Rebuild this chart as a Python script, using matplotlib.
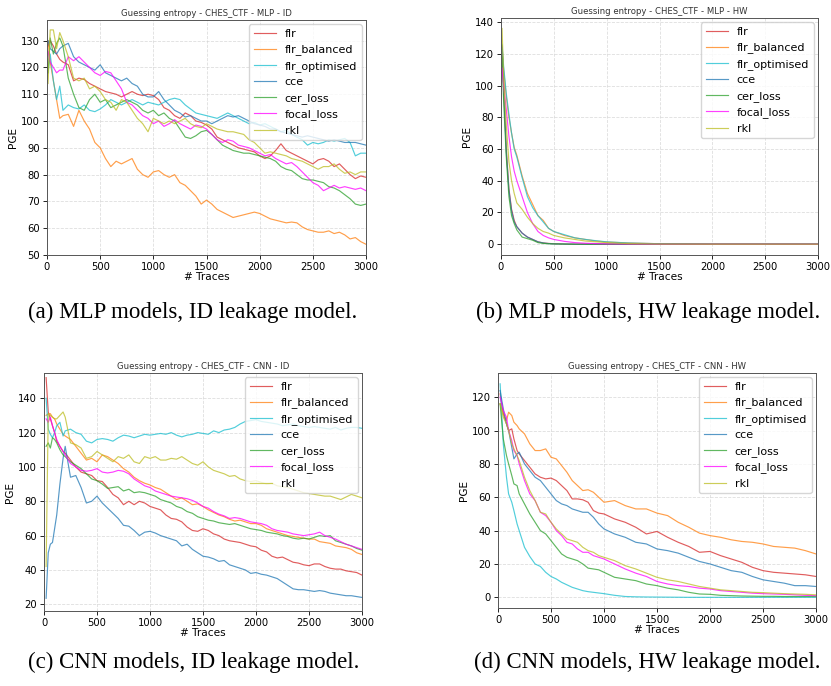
import matplotlib
matplotlib.use("Agg")
import matplotlib.pyplot as plt

# ---------------------------------------------------------------- data
labels = ["flr", "flr_balanced", "flr_optimised", "cce", "cer_loss", "focal_loss", "rkl"]
colors = ["#d62728", "#ff7f0e", "#17becf", "#1f77b4", "#2ca02c", "#ff00ff", "#bcbd22"]

# (a) MLP - ID
x_a = [10, 30, 60, 90, 120, 150] + list(range(200, 3001, 50))
flr_a = [128, 130, 128, 125, 123, 122,
         121, 115, 116, 115.5, 114, 113, 112, 111, 110.5, 110,
         109, 110, 111, 110, 109.5, 110, 109.5, 108, 105, 104,
         102, 101, 103, 102, 100, 99.5, 98.5, 97, 94, 93,
         92, 91, 90, 89.5, 89, 88.5, 87, 86, 87, 89,
         91.5, 89, 88, 87, 86, 85, 84, 85.5, 86, 85,
         83, 84, 82, 80, 78.5, 79.5, 79]
flr_balanced_a = [130, 122, 115, 108, 101, 102,
                  102.5, 98, 104, 100, 97, 92, 90, 86, 83, 85,
                  84, 85, 86, 82, 80, 79, 81, 81.5, 80, 79,
                  80, 77, 76, 74, 72, 69, 70.5, 69, 67, 66,
                  65, 64, 64.5, 65, 65.5, 66, 65.5, 64.5, 63.5, 63,
                  62.5, 62, 62.3, 62, 60.5, 59.5, 59, 58.5, 58.5, 59,
                  58, 58.5, 57.5, 56, 56.5, 55, 54]
flr_optimised_a = [118, 125, 115, 108, 113, 104,
                   106, 105, 104.5, 106, 104, 103.5, 104.5, 106, 108, 107,
                   106, 107, 108, 107, 106, 107, 106.5, 106, 107, 108,
                   108.5, 108, 106, 104.5, 103, 102.5, 102, 101.5, 101, 102,
                   103, 102, 101, 100, 99, 99.5, 98.5, 99, 98, 97,
                   96, 96.5, 95, 94, 93, 91, 92, 91.5, 92, 93,
                   92.5, 93, 93.5, 92, 87, 88, 88]
cce_a = [130, 127, 126, 125, 127, 128,
         129, 124, 122, 121, 120, 119, 121, 118, 117, 116,
         115, 116, 114, 113, 110, 109, 109, 111, 108, 106,
         104, 103, 101.5, 102, 101, 100, 100, 99, 100, 101,
         102, 101.5, 102, 101, 100, 99, 98.5, 98, 97, 97,
         96, 95.5, 95, 94.5, 94, 94.5, 94, 93.5, 93, 92.5,
         93, 92.5, 92, 92, 92, 91.5, 91]
cer_loss_a = [118, 131, 125, 129, 131, 128,
              116, 110, 105, 104, 108, 110, 107, 108, 105, 106,
              107, 108, 107, 106, 104, 103, 104, 102, 103, 101,
              100, 97, 94, 93.5, 94.5, 96, 96.5, 95, 93, 91,
              90, 89, 88.5, 88, 88, 87.5, 87, 86.5, 86, 85,
              83, 82, 81.5, 80, 78.5, 78, 78, 77.5, 77, 75.5,
              75, 74, 72.5, 71, 69, 68.5, 69]
focal_loss_a = [126, 122, 120, 118, 119, 119,
                124, 122.5, 124, 122, 120, 118, 117, 118.5, 118, 115,
                112, 107, 106, 104, 102, 101, 99, 100, 98, 99,
                100.5, 99, 98, 97, 98.5, 98, 97, 95, 93, 92,
                93, 92.5, 91, 90.5, 90, 89, 88, 87, 87.5, 86,
                85, 84, 84.5, 83, 81, 79, 77, 76, 74, 75,
                76, 75, 75.5, 75, 74.5, 75, 74]
rkl_a = [114, 134, 134, 127, 133, 130,
         124, 116, 115, 116, 112, 113, 111, 108, 107, 104,
         108, 107, 104, 101, 99, 96, 101, 100, 99, 100,
         99, 100, 101, 99, 98, 97.5, 99, 98, 97, 96.5,
         96, 96, 95.5, 95, 93, 92, 90, 88, 88.5, 88,
         87.5, 87, 86, 85.5, 85, 84, 83, 82, 83, 83,
         84, 82, 80.5, 81, 80, 81, 81]

# (b) MLP - HW
x_b = [10, 25, 50, 75, 100, 125, 150, 200, 250, 300, 350, 400, 450, 500,
       600, 700, 800, 900, 1000, 1200, 1500, 2000, 2500, 3000]
flr_b = [125, 100, 60, 35, 22, 15, 11, 7, 4.5, 3, 1.5, 0.8, 0.5, 0.3,
         0.1, 0, 0, 0, 0, 0, 0, 0, 0, 0]
flr_balanced_b = [125, 110, 93, 80, 70, 61, 56, 43, 32, 25, 18, 15, 10, 8,
                  5.5, 4, 3, 2, 1.4, 0.8, 0.3, 0, 0, 0]
flr_optimised_b = [126, 112, 95, 82, 70, 60, 55, 42, 30, 23, 18, 14, 10, 8,
                   6, 4, 3, 2.2, 1.5, 0.8, 0.3, 0, 0, 0]
cce_b = [124, 98, 58, 34, 21, 14, 11, 7, 4.5, 3, 1.5, 0.8, 0.4, 0.2,
         0.1, 0, 0, 0, 0, 0, 0, 0, 0, 0]
cer_loss_b = [118, 90, 55, 30, 18, 13, 9, 4.5, 3.5, 2.5, 1, 0.5, 0.3, 0.2,
              0.1, 0, 0, 0, 0, 0, 0, 0, 0, 0]
focal_loss_b = [111, 100, 85, 68, 55, 46, 40, 30, 20, 13, 8, 5.5, 4, 3,
                1.8, 1, 0.6, 0.4, 0.2, 0.1, 0, 0, 0, 0]
rkl_b = [136, 105, 75, 52, 40, 32, 26, 22, 17, 13, 10, 8, 7, 5.5,
         4, 3, 2, 1.5, 1, 0.4, 0.1, 0, 0, 0]

# (c) CNN - ID
x_c = [20, 40, 60, 80, 100, 120, 150, 180] + list(range(200, 3001, 50))
flr_c = [152, 132, 128, 124, 120, 115, 112, 109,
         108, 104, 100, 97, 96, 95, 92, 91.5, 88, 84,
         82, 78, 80, 78, 80, 79, 77, 76, 75, 72,
         70, 69.5, 68, 65, 63, 62.5, 64, 63, 61, 60,
         58, 57, 56.5, 56, 55, 54, 53.5, 51.5, 50.5, 48,
         47, 47.5, 46, 44.5, 44, 43, 42.5, 43.5, 43.5, 42,
         41, 40.5, 40.5, 39.5, 39, 38.5, 37]
flr_balanced_c = [130, 131, 131, 129, 128, 125, 122, 119,
                  118, 116, 112, 108, 104, 105, 103, 107, 106, 104,
                  102, 99, 97, 94, 92, 90.5, 89.5, 88, 87, 85,
                  83, 81, 82, 80, 78, 78.5, 77, 75, 73.5, 72,
                  71, 69.5, 68.5, 69, 68, 67, 67, 66, 64, 63,
                  62, 61, 60, 59.5, 59, 58.5, 58, 58, 56.5, 56,
                  55.5, 54, 53.5, 53, 52, 50, 49]
flr_optimised_c = [140, 122, 119, 117, 120, 124, 126, 118,
                   121, 122, 120, 119, 115, 114, 116, 116.5, 116, 115,
                   117, 118.5, 118, 117, 118, 119, 118.5, 119, 119.5, 119,
                   120, 118.5, 117.5, 118.5, 119, 120, 119.5, 119, 121, 120,
                   121.5, 122, 123, 125, 126.5, 127, 127.5, 126.5, 126, 125.5,
                   125, 124, 124.5, 125, 124, 123.5, 123, 123.5, 123, 122.5,
                   122, 123, 121.5, 122.5, 123, 123, 122.5]
cce_c = [23.5, 50, 55, 56, 64, 72, 90, 105,
         112, 94, 95, 88, 79, 80, 83, 79, 76, 73,
         70, 66, 65.5, 63, 60, 62, 62.5, 61.5, 60, 59,
         58, 57, 54, 55, 52, 50, 48, 47.5, 46.5, 45,
         45.5, 43, 42, 41, 40, 38, 38.5, 37.5, 37, 36,
         35, 33, 31, 29, 28.5, 28.5, 28, 27.5, 28, 27.5,
         26.5, 26, 25.5, 25, 25, 24.5, 24]
cer_loss_c = [112, 114, 111, 117, 116, 114, 110, 107,
              106, 103, 101, 99, 96, 93, 92, 90, 87.5, 88,
              88.5, 86, 87, 85, 85.5, 85, 84, 83, 81, 80,
              79, 77, 76, 74, 73, 71, 70, 69, 68.5, 67.5,
              67, 66.5, 67, 66, 65, 64, 63.5, 63, 62, 61.5,
              61, 60, 59.5, 58.5, 58, 58.5, 58, 59, 60, 59.5,
              60, 57, 56, 55, 54, 52.5, 51.5]
focal_loss_c = [128, 126, 129, 124, 120, 116, 112, 109,
                107, 102, 100, 98, 97.5, 98, 99, 97, 96.5, 97,
                98, 97.5, 96, 93, 91, 89, 88, 86, 85, 84,
                83, 82.5, 82, 81.5, 80.5, 79, 77, 76, 74, 72.5,
                71.5, 70, 70.5, 70, 69, 68, 67.5, 67, 66, 64,
                63, 62.5, 62, 61, 60.5, 60, 60.5, 61, 62, 60,
                59, 58, 56.5, 55, 54, 53, 52]
rkl_c = [42, 131, 130, 129, 128, 128, 130, 132,
         129, 114, 113, 111, 105, 106, 109, 107, 105, 103,
         106, 105, 107, 103, 102, 106, 105, 106, 104, 104,
         105, 104.5, 106, 104, 102, 101, 103, 100, 98, 97,
         96, 94.5, 95, 93, 92, 91.5, 92, 91, 90, 90.5,
         89, 88.5, 88, 87, 86, 85, 84.5, 84, 83.5, 83,
         83, 82, 81, 82.5, 84, 83, 82]

# (d) CNN - HW
x_d = ([20, 50, 80, 100, 130, 150, 180, 200] + list(range(250, 1001, 50))
       + list(range(1100, 3001, 100)))
flr_d = [122, 110, 104, 100, 101, 95, 88, 86,
         82, 78, 74, 72, 71, 71.5, 70, 67, 64, 59, 59, 58.5, 57, 52, 50.5, 50,
         47, 45, 42, 38, 39.5, 36, 33, 30.5, 27, 27.5,
         25, 23, 21, 18, 16, 15, 14.5, 14, 13.5, 12.5]
flr_balanced_d = [116, 110, 106, 111, 109, 105, 103, 101,
                  98, 92, 88, 88, 89, 84, 83, 79, 75, 70, 67, 64, 64.5, 63, 60, 57,
                  58, 55, 53, 53, 50.5, 49, 45, 42, 38.5, 37,
                  36, 34.5, 33.5, 33, 32, 30.5, 30, 29.5, 28, 26]
flr_optimised_d = [128, 92, 72, 62, 57, 52, 44, 40,
                   30, 24.5, 20, 18.5, 15, 12.5, 11, 9, 7.5, 6, 5, 4, 3.4, 3, 2.6, 2.2,
                   1.2, 0.5, 0.3, 0.2, 0.15, 0.1, 0.05, 0, 0, 0,
                   0, 0, 0, 0, 0, 0, 0, 0, 0, 0]
cce_d = [124, 113, 104, 100, 90, 83, 86, 87,
         80, 76, 72, 70, 66, 62, 58, 56, 55, 53, 52, 51, 51, 48, 44, 41,
         38, 36, 33, 32, 29, 28, 26.5, 24, 21.5, 20,
         18, 16, 15, 12.5, 10.5, 9.5, 8.5, 7, 7, 6.5]
cer_loss_d = [116, 95, 85, 80, 73, 68, 67, 62,
              56, 50, 45, 40, 38, 34, 30, 26, 24, 23, 22, 20, 17.5, 17, 16.5, 15,
              12, 11, 10, 8, 7, 5.5, 4.5, 3, 2, 1.8,
              1.2, 1, 0.8, 0.7, 0.6, 0.6, 0.5, 0.5, 0.5, 0.5]
focal_loss_d = [120, 112, 108, 100, 94, 88, 85, 80,
                70, 62, 58, 51, 49, 45, 40, 37, 33, 32, 29, 27, 27, 25, 24, 23,
                20, 17, 14.5, 12.5, 9.5, 8, 7, 6.5, 5.5, 5,
                4, 3.5, 3, 2.5, 2.2, 2, 1.8, 1.5, 1.2, 1]
rkl_d = [116, 108, 104, 100, 92, 89, 85, 82,
         72, 64, 58, 51, 50, 45, 41, 38, 35, 34, 33, 30, 28, 27, 25, 24,
         22, 19, 17, 14.5, 12, 10.5, 9.5, 8, 6.5, 5.5,
         4.5, 4, 3.5, 3, 2.8, 2.5, 2.2, 2, 1.8, 1.5]

titles = ["Guessing entropy - CHES_CTF - MLP - ID",
          "Guessing entropy - CHES_CTF - MLP - HW",
          "Guessing entropy - CHES_CTF - CNN - ID",
          "Guessing entropy - CHES_CTF - CNN - HW"]
captions = ["(a) MLP models, ID leakage model.",
            "(b) MLP models, HW leakage model.",
            "(c) CNN models, ID leakage model.",
            "(d) CNN models, HW leakage model."]

panels = [
    (x_a, [flr_a, flr_balanced_a, flr_optimised_a, cce_a, cer_loss_a, focal_loss_a, rkl_a]),
    (x_b, [flr_b, flr_balanced_b, flr_optimised_b, cce_b, cer_loss_b, focal_loss_b, rkl_b]),
    (x_c, [flr_c, flr_balanced_c, flr_optimised_c, cce_c, cer_loss_c, focal_loss_c, rkl_c]),
    (x_d, [flr_d, flr_balanced_d, flr_optimised_d, cce_d, cer_loss_d, focal_loss_d, rkl_d]),
]

# ---------------------------------------------------------------- layout
W, H = 831, 686
fig = plt.figure(figsize=(W / 100, H / 100), dpi=100)

# axes boxes in pixels: left, right, top, bottom
boxes = [(47, 366, 20, 255), (501, 818, 18, 255), (44, 362, 373, 611), (498, 816, 373, 608)]
ylims = [(50, 137.7), (-6.8, 142.6), (16.1, 154.7), (-6.4, 134.5)]
yticks = [range(50, 131, 10), range(0, 141, 20), range(20, 141, 20), range(0, 121, 20)]
cap_pos = [(28, 312), (476, 312), (28, 662), (474, 662)]

def px_box(b):
    l, r, t, bt = b
    return [l / W, 1 - bt / H, (r - l) / W, (bt - t) / H]

for i, (xs, series) in enumerate(panels):
    ax = fig.add_axes(px_box(boxes[i]))
    for lab, col, ys in zip(labels, colors, series):
        ax.plot(xs, ys, color=col, lw=0.85, alpha=0.75, label=lab)
    ax.set_xlim(0, 3000)
    ax.set_ylim(*ylims[i])
    ax.set_xticks(range(0, 3001, 500))
    ax.set_yticks(list(yticks[i]))
    ax.tick_params(labelsize=7.2, length=3, width=0.6, pad=2)
    ax.grid(True, ls="--", color="#d0d0d0", lw=0.6, alpha=0.7)
    for s in ax.spines.values():
        s.set_color("#555555")
        s.set_linewidth(0.7)
    ax.set_title(titles[i], fontsize=6.1, pad=3, color="#333333")
    ax.set_xlabel("# Traces", fontsize=7.6, labelpad=0)
    ax.set_ylabel("PGE", fontsize=7.6, labelpad=2)
    ax.legend(loc="upper right", fontsize=8, framealpha=0.8, borderaxespad=0.4)

for (cx, cy), txt in zip(cap_pos, captions):
    fig.text(cx / W, 1 - cy / H, txt, fontsize=16.5, family="Liberation Serif",
             ha="left", va="center")

fig.savefig("out.png", dpi=100)
